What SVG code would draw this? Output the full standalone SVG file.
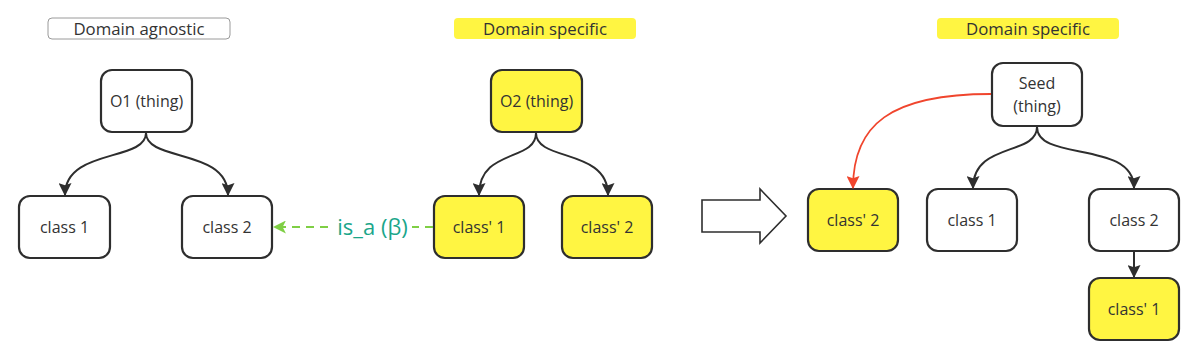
<svg xmlns="http://www.w3.org/2000/svg" width="1200" height="359" viewBox="0 0 1200 359">
<defs>
<style>
.node{stroke:#2e2e2e;stroke-width:2.2;}
.w{fill:#ffffff;}
.y{fill:#fff542;}
.t{font-family:"Open Sans","Noto Sans",sans-serif;font-size:16px;fill:#333333;text-anchor:middle;}
.tt{font-family:"Open Sans","Noto Sans",sans-serif;font-size:16.8px;fill:#333333;text-anchor:middle;}
.edge{fill:none;stroke:#2e2e2e;stroke-width:2;}
</style>
<marker id="ahk" viewBox="0 0 12 12" refX="11" refY="6" markerWidth="13" markerHeight="13" markerUnits="userSpaceOnUse" orient="auto">
<path d="M0,0 L12,6 L0,12 L2,6 z" fill="#2e2e2e"/>
</marker>
<marker id="ahr" viewBox="0 0 12 12" refX="11" refY="6" markerWidth="13" markerHeight="13" markerUnits="userSpaceOnUse" orient="auto">
<path d="M0,0 L12,6 L0,12 L2,6 z" fill="#f0452d"/>
</marker>
<marker id="ahg" viewBox="0 0 12 12" refX="11" refY="6" markerWidth="13" markerHeight="13" markerUnits="userSpaceOnUse" orient="auto">
<path d="M0,0 L12,6 L0,12 L3,6 z" fill="#7fcf45"/>
</marker>
</defs>
<rect width="1200" height="359" fill="#ffffff"/>

<g id="title-agnostic">
<rect x="48" y="18" width="182" height="21" rx="4" fill="#ffffff" stroke="#9a9a9a" stroke-width="1"/>
<text class="tt" x="139" y="34.5">Domain agnostic</text>
</g>
<g id="title-specific-1">
<rect x="454" y="18" width="182" height="21" rx="4" fill="#fff542"/>
<text class="tt" x="545" y="34.5">Domain specific</text>
</g>
<g id="title-specific-2">
<rect x="937" y="18" width="182" height="21" rx="4" fill="#fff542"/>
<text class="tt" x="1028" y="34.5">Domain specific</text>
</g>

<g id="o1">
<rect class="node w" x="101" y="70" width="91" height="62" rx="11"/>
<text class="t" x="146.5" y="107">O1 (thing)</text>
</g>
<g id="o1-class1">
<rect class="node w" x="19" y="196" width="91" height="62" rx="11"/>
<text class="t" x="64.5" y="233">class 1</text>
</g>
<g id="o1-class2">
<rect class="node w" x="182" y="196" width="90" height="62" rx="11"/>
<text class="t" x="227" y="233">class 2</text>
</g>

<g id="o2">
<rect class="node y" x="491" y="70" width="91" height="62" rx="11"/>
<text class="t" x="536.5" y="107">O2 (thing)</text>
</g>
<g id="o2-class1">
<rect class="node y" x="434" y="196" width="90" height="62" rx="11"/>
<text class="t" x="479" y="233">class' 1</text>
</g>
<g id="o2-class2">
<rect class="node y" x="562" y="196" width="90" height="62" rx="11"/>
<text class="t" x="607" y="233">class' 2</text>
</g>

<g id="big-arrow">
<path d="M702,200 L760,200 L760,189 L786,216 L760,243 L760,232 L702,232 Z" fill="#ffffff" stroke="#2e2e2e" stroke-width="1.6" stroke-linejoin="miter"/>
</g>

<g id="seed">
<rect class="node w" x="992" y="63" width="90" height="63" rx="11"/>
<text class="t" x="1037" y="89">Seed</text>
<text class="t" x="1037" y="112">(thing)</text>
</g>
<g id="r-classp2">
<rect class="node y" x="808" y="189" width="90" height="62" rx="11"/>
<text class="t" x="853" y="226">class' 2</text>
</g>
<g id="r-class1">
<rect class="node w" x="927" y="189" width="90" height="62" rx="11"/>
<text class="t" x="972" y="226">class 1</text>
</g>
<g id="r-class2">
<rect class="node w" x="1089" y="189" width="90" height="62" rx="11"/>
<text class="t" x="1134" y="226">class 2</text>
</g>
<g id="r-classp1">
<rect class="node y" x="1089" y="278" width="90" height="62" rx="11"/>
<text class="t" x="1134" y="315">class' 1</text>
</g>

<g id="connectors">
<path class="edge" d="M146,133 C146,162 65,148 65,195" marker-end="url(#ahk)"/>
<path class="edge" d="M146,133 C146,162 228,148 228,195" marker-end="url(#ahk)"/>
<path class="edge" d="M536,133 C536,162 479,148 479,195" marker-end="url(#ahk)"/>
<path class="edge" d="M536,133 C536,162 608,148 608,195" marker-end="url(#ahk)"/>
<path class="edge" d="M1037,127 C1037,156 973,142 973,188" marker-end="url(#ahk)"/>
<path class="edge" d="M1037,127 C1037,162 1134,140 1134,188" marker-end="url(#ahk)"/>
<path class="edge" d="M1134,252 L1134,277" marker-end="url(#ahk)"/>
<path d="M991,94 C890,94 853,125 853,188" fill="none" stroke="#f0452d" stroke-width="1.8" marker-end="url(#ahr)"/>
<path d="M433,227 L412,227" fill="none" stroke="#7fcf45" stroke-width="2" stroke-dasharray="8,6"/>
<path d="M328,227 L274,227" fill="none" stroke="#7fcf45" stroke-width="2" stroke-dasharray="8,6" marker-end="url(#ahg)"/>
<text x="372.5" y="235" font-family="'Open Sans','Noto Sans',sans-serif" font-size="22" fill="#1ba68a" text-anchor="middle">is_a (β)</text>
</g>
</svg>
